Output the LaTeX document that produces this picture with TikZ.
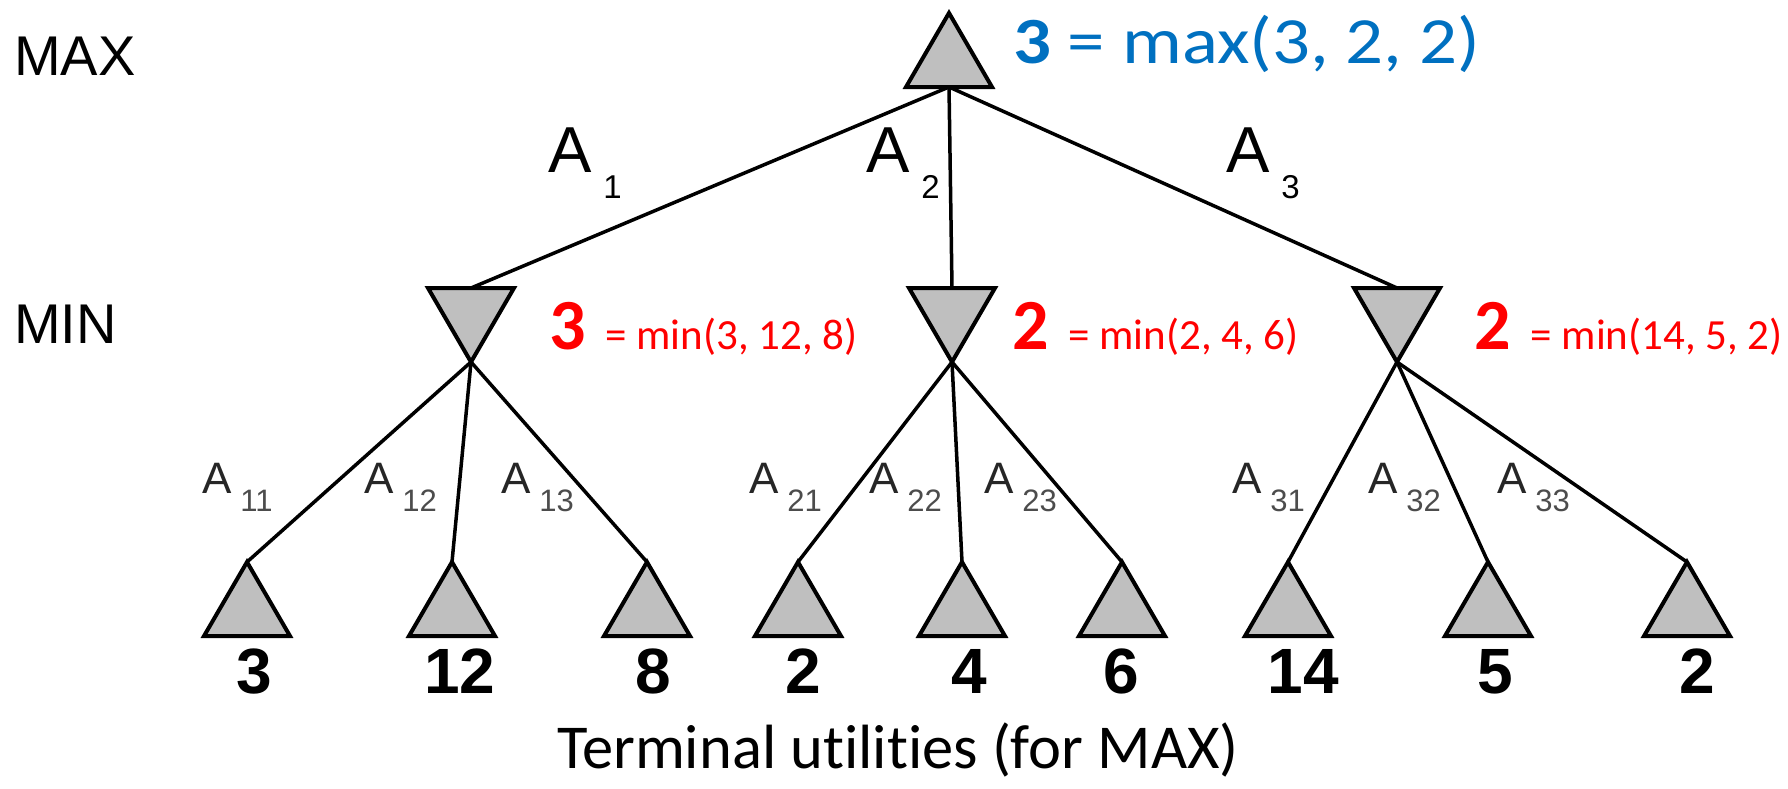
\documentclass[tikz,border=0pt]{standalone}
\usepackage{fontspec}
\newfontfamily\arialf{Liberation Sans}
\newfontfamily\calf[Ligatures=NoCommon]{Carlito}
\definecolor{offblue}{HTML}{0070C0}
\definecolor{offred}{HTML}{FF0000}
\definecolor{trifill}{HTML}{BFBFBF}
\newcommand\fLevel{\arialf\fontsize{56}{60}\selectfont}
\newcommand\fAbig{\arialf\fontsize{65}{65}\selectfont}
\newcommand\fAbigsub{\arialf\fontsize{33}{33}\selectfont}
\newcommand\fAsmall{\arialf\fontsize{44}{44}\selectfont}
\newcommand\fAsmallsub{\arialf\fontsize{31}{31}\selectfont}
\newcommand\fLeaf{\arialf\bfseries\fontsize{64}{64}\selectfont}
\newcommand\fBigRed{\calf\bfseries\fontsize{72}{72}\selectfont}
\newcommand\fSmallRed{\calf\fontsize{43}{43}\selectfont}
\newcommand\fTop{\calf\fontsize{66}{66}\selectfont}
\newcommand\fCap{\calf\fontsize{62.5}{63}\selectfont}
\newcommand\Atop[1]{{\fAbig A}\hspace{12pt}\raisebox{-26pt}{\fAbigsub #1}}
\newcommand\Asec[1]{{\color{black!85}\fAsmall A}\hspace{9pt}\raisebox{-18pt}{\color{black!70}\fAsmallsub #1}}
\begin{document}
\begin{tikzpicture}[x=1pt,y=-1pt,
  tri/.style={draw=black, fill=trifill, line width=4pt, line join=miter},
  edge/.style={line width=3.5pt, black},
  lab/.style={inner sep=0pt, outer sep=0pt, anchor=base west},
  leafnum/.style={inner sep=0pt, outer sep=0pt, anchor=base, font=\fLeaf},
  uptri/.pic={\draw[tri] (-43,37) -- (0,-37) -- (43,37) -- cycle;
              \coordinate (-top) at (0,-37); \coordinate (-bot) at (0,37);},
  downtri/.pic={\draw[tri] (-43,-37) -- (43,-37) -- (0,37) -- cycle;
              \coordinate (-top) at (0,-37); \coordinate (-bot) at (0,37);}
]
\useasboundingbox (0,0) rectangle (1788,788);

% root
\pic (r) at (949,50) {uptri};
% MIN nodes
\pic (m1) at (471,325) {downtri};
\pic (m2) at (952,325) {downtri};
\pic (m3) at (1397,325) {downtri};
% leaves
\pic (l11) at (247,599) {uptri};
\pic (l12) at (452,599) {uptri};
\pic (l13) at (647,599) {uptri};
\pic (l21) at (798,599) {uptri};
\pic (l22) at (962,599) {uptri};
\pic (l23) at (1122,599) {uptri};
\pic (l31) at (1288,599) {uptri};
\pic (l32) at (1488,599) {uptri};
\pic (l33) at (1687,599) {uptri};

% edges
\draw[edge] (r-bot) -- (m1-top);
\draw[edge] (r-bot) -- (m2-top);
\draw[edge] (r-bot) -- (m3-top);
\foreach \m/\a/\b/\c in {m1/l11/l12/l13, m2/l21/l22/l23, m3/l31/l32/l33}{
  \draw[edge] (\m-bot) -- (\a-top);
  \draw[edge] (\m-bot) -- (\b-top);
  \draw[edge] (\m-bot) -- (\c-top);
}

% level labels
\node[lab, font=\fLevel] (maxlab) at (14,75) {MAX};
\node[lab, font=\fLevel] (minlab) at (14,343) {MIN};

% action labels, first level
\node[lab] (a1) at (548,172) {\Atop{1}};
\node[lab] (a2) at (866,172) {\Atop{2}};
\node[lab] (a3) at (1226,172) {\Atop{3}};

% action labels, second level
\node[lab] (a11) at (202,493) {\Asec{11}};
\node[lab] (a12) at (364,493) {\Asec{12}};
\node[lab] (a13) at (501,493) {\Asec{13}};
\node[lab] (a21) at (749,493) {\Asec{21}};
\node[lab] (a22) at (869,493) {\Asec{22}};
\node[lab] (a23) at (984,493) {\Asec{23}};
\node[lab] (a31) at (1232,493) {\Asec{31}};
\node[lab] (a32) at (1368,493) {\Asec{32}};
\node[lab] (a33) at (1497,493) {\Asec{33}};

% values
\node[lab, text=offblue, font=\fTop] (v0) at (1013,63) {\scalebox{1.135}[1]{{\bfseries 3} = max(3, 2, 2)}};
\node[lab, text=offred] (v1) at (549,349) {{\fBigRed 3}\hspace{20pt}{\fSmallRed = min(3, 12, 8)}};
\node[lab, text=offred] (v2) at (1012,349) {{\fBigRed 2}\hspace{20pt}{\fSmallRed = min(2, 4, 6)}};
\node[lab, text=offred] (v3) at (1474,349) {{\fBigRed 2}\hspace{20pt}{\fSmallRed = min(14, 5, 2)}};

% leaf utilities
\node[leafnum] (u11) at (254,693) {3};
\node[leafnum] (u12) at (460,693) {12};
\node[leafnum] (u13) at (653,693) {8};
\node[leafnum] (u21) at (803,693) {2};
\node[leafnum] (u22) at (969,693) {4};
\node[leafnum] (u23) at (1121,693) {6};
\node[leafnum] (u31) at (1303,693) {14};
\node[leafnum] (u32) at (1495,693) {5};
\node[leafnum] (u33) at (1697,693) {2};

% caption
\node[inner sep=0pt, anchor=base, font=\fCap] (cap) at (898,768) {Terminal utilities (for MAX)};
\end{tikzpicture}
\end{document}
